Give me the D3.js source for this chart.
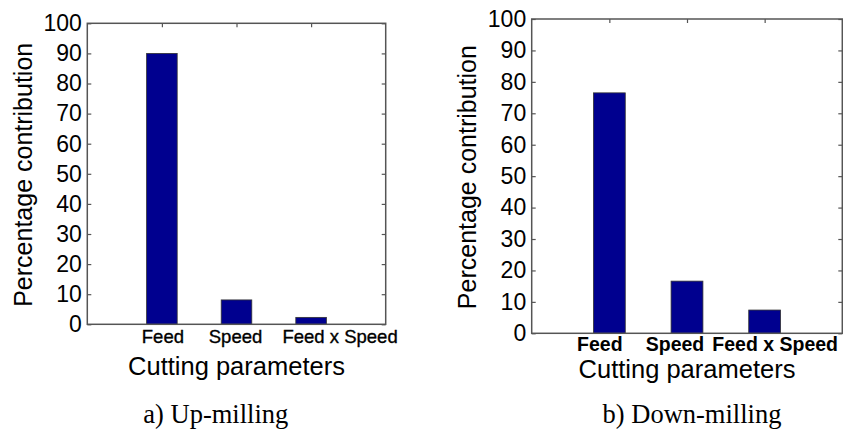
<!DOCTYPE html>
<html>
<head>
<meta charset="utf-8">
<title>Percentage contribution of cutting parameters</title>
<script src="https://d3js.org/d3.v7.min.js"></script>
<style>
  body { margin: 0; background: #fff; }
  svg { display: block; }
  .box { fill: none; stroke: #555; stroke-width: 1.5; }
  .tick line { stroke: #555; stroke-width: 1.2; }
  .tick text { font-family: "Liberation Sans", Arial, sans-serif; fill: #000; }
  .bar { fill: #00008f; stroke: #333; stroke-width: 0.8; }
  .axis-title { font-family: "Liberation Sans", Arial, sans-serif; fill: #000; }
  .caption { font-family: "Liberation Serif", "Times New Roman", serif; fill: #000; }
</style>
</head>
<body>
<div id="chart"></div>
<script>

// data
var categories = ["Feed", "Speed", "Feed x Speed"];
var upMilling = [90, 8.1, 2.3];
var downMilling = [76.5, 16.6, 7.4];
var yTickValues = [0, 10, 20, 30, 40, 50, 60, 70, 80, 90, 100];
var captions = ["a) Up-milling", "b) Down-milling"];

var width = 843, height = 430;

var svg = d3.select("#chart").append("svg")
  .attr("width", width)
  .attr("height", height);

// the two panels differ slightly in position and label styling
var panels = [
  { values: upMilling, caption: captions[0],
    left: 87.3, top: 23.3, right: 385.7, bottom: 324.3,
    labelDx: [1, -1, 29], labelY: 342.5, labelBold: false, labelSize: 18.5,
    titleY: 374.5, captionX: 215.8 },
  { values: downMilling, caption: captions[1],
    left: 531.7, top: 19, right: 842.3, bottom: 333.3,
    labelDx: [-9.5, -12, 10.5], labelY: 351, labelBold: true, labelSize: 19.5,
    titleY: 378, captionX: 692 }
];

panels.forEach(drawPanel);

function drawPanel(p) {
  var x = d3.scaleLinear().domain([0, categories.length + 1]).range([p.left, p.right]);
  var y = d3.scaleLinear().domain([0, 100]).range([p.bottom, p.top]);
  var barW = (x(1) - x(0)) * 0.41;

  var g = svg.append("g");

  // inward ticks on all four sides
  g.append("g")
    .attr("transform", "translate(" + p.left + ",0)")
    .call(d3.axisLeft(y).tickValues(yTickValues).tickSize(-4).tickPadding(5.5))
    .call(function(a) { a.select(".domain").remove(); })
    .selectAll("text").style("font-size", "23px");

  g.append("g")
    .attr("transform", "translate(" + p.right + ",0)")
    .call(d3.axisRight(y).tickValues(yTickValues).tickSize(-4).tickFormat(""))
    .call(function(a) { a.select(".domain").remove(); });

  g.append("g")
    .attr("transform", "translate(0," + p.top + ")")
    .call(d3.axisTop(x).tickValues([1, 2, 3]).tickSize(-4).tickFormat(""))
    .call(function(a) { a.select(".domain").remove(); });

  g.append("g")
    .attr("transform", "translate(0," + p.bottom + ")")
    .call(d3.axisBottom(x).tickValues([1, 2, 3]).tickSize(-4).tickFormat(""))
    .call(function(a) { a.select(".domain").remove(); });

  g.selectAll("rect.bar")
    .data(p.values)
    .enter().append("rect")
      .attr("class", "bar")
      .attr("x", function(d, i) { return x(i + 1) - barW / 2; })
      .attr("width", barW)
      .attr("y", function(d) { return y(d); })
      .attr("height", function(d) { return y(0) - y(d); });

  g.append("rect")
    .attr("class", "box")
    .attr("x", p.left)
    .attr("y", p.top)
    .attr("width", p.right - p.left)
    .attr("height", p.bottom - p.top);

  // category labels sit a little off the ticks in the original
  g.selectAll("text.cat")
    .data(categories)
    .enter().append("text")
      .attr("class", "axis-title cat")
      .attr("x", function(d, i) { return x(i + 1) + p.labelDx[i]; })
      .attr("y", p.labelY)
      .attr("text-anchor", "middle")
      .style("font-size", p.labelSize + "px")
      .style("font-weight", p.labelBold ? "bold" : "normal")
      .style("stroke", p.labelBold ? "none" : "#000")
      .style("stroke-width", 0.35)
      .text(function(d) { return d; });

  g.append("text")
    .attr("class", "axis-title")
    .attr("x", (p.left + p.right) / 2)
    .attr("y", p.titleY)
    .attr("text-anchor", "middle")
    .style("font-size", "25.5px")
    .text("Cutting parameters");

  g.append("text")
    .attr("class", "axis-title")
    .attr("transform", "translate(" + (p.left - 55.7) + "," + ((p.top + p.bottom) / 2 + 1) + ") rotate(-90)")
    .attr("text-anchor", "middle")
    .style("font-size", "25px")
    .text("Percentage contribution");

  g.append("text")
    .attr("class", "caption")
    .attr("x", p.captionX)
    .attr("y", 423)
    .attr("text-anchor", "middle")
    .style("font-size", "26.5px")
    .text(p.caption);
}

</script>
</body>
</html>
